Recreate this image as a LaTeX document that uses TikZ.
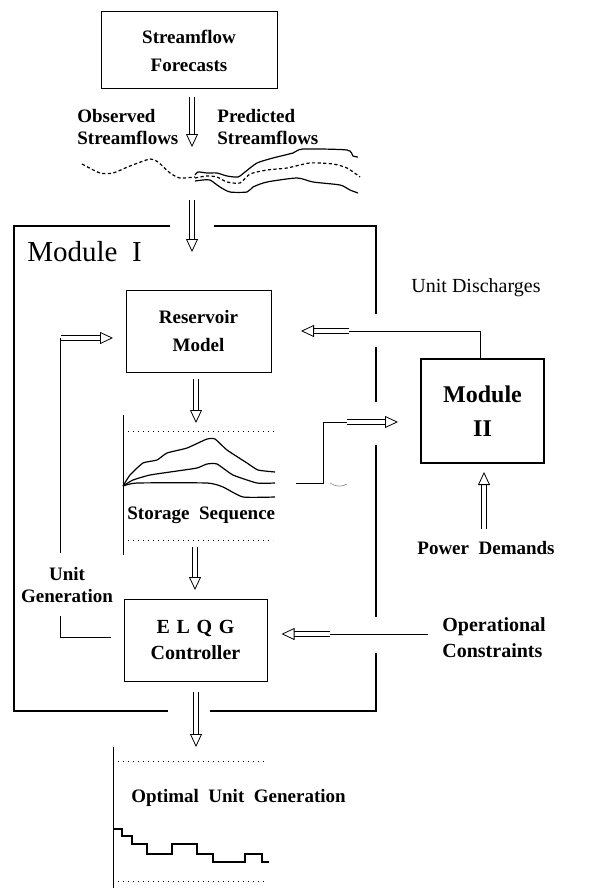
\documentclass[tikz,border=0pt]{standalone}
\usepackage{fontspec}
\setmainfont{Liberation Serif}
\usetikzlibrary{arrows.meta}

\tikzset{
  box/.style={draw, line width=0.5pt, inner sep=0pt, align=center},
  lab/.style={font=\bfseries\fontsize{9.5}{11}\selectfont, inner sep=0pt},
  thin/.style={line width=0.5pt},
  hollow/.style={double, double distance=2.2pt, line width=0.4pt,
    -{Triangle[open, length=6.5pt, width=6pt, line width=0.4pt]}},
  curve/.style={line width=0.6pt},
  dashcurve/.style={line width=0.6pt, dash pattern=on 1.6pt off 1.2pt},
  guide/.style={line width=0.5pt, dotted}
}

\begin{document}
\begin{tikzpicture}[x=0.5pt, y=-0.5pt]
  \useasboundingbox (0,0) rectangle (589,888);

  % boxes
  \node (forecast) at (189,50.5) [box, minimum width=88pt, minimum height=38.5pt,
    font=\bfseries\fontsize{9.5}{14}\selectfont] {Streamflow\\Forecasts};
  \node (reservoir) at (198.5,331) [box, minimum width=72.5pt, minimum height=41pt,
    font=\bfseries\fontsize{9.5}{14}\selectfont] {Reservoir\\Model};
  \node (elqg) at (195.5,640) [box, minimum width=71.5pt, minimum height=41pt,
    font=\bfseries\fontsize{10}{13}\selectfont] {E\,\,L\,\,Q\,\,G\\Controller};
  \node (module2) at (482.5,411) [box, line width=1pt, minimum width=61.5pt, minimum height=52pt,
    font=\bfseries\fontsize{12}{17}\selectfont] {Module\\II};

  % labels
  \node (modlabel) at (27,252) [anchor=west, font=\fontsize{14.5}{16}\selectfont, inner sep=0pt] {Module\ \ I};
  \node (observed) at (77,127) [lab, anchor=west, align=left] {Observed\\Streamflows};
  \node (predicted) at (217,127) [lab, anchor=west, align=left] {Predicted\\Streamflows};
  \node (discharge) at (476,288) [font=\fontsize{10}{12}\selectfont, inner sep=0pt] {Unit Discharges};
  \node (unitgen) at (67,585) [lab, align=center] {Unit\\Generation};
  \node (power) at (486,548) [lab] {Power\ \ Demands};
  \node (oper) at (442,638) [lab, anchor=west, align=left, font=\bfseries\fontsize{10}{13}\selectfont] {Operational\\Constraints};
  \node (storage) at (127,515) [lab, anchor=west] {Storage\ \ Sequence};
  \node (optimal) at (131,798) [lab, anchor=west] {Optimal\ \ Unit\ \ Generation};

  % Module I frame
  \draw[line width=1pt] (170,226) -| (14,711) -- (168,711);
  \draw[line width=1pt] (214,226) -| (376,314);
  \draw[line width=1pt] (376,347) -- (376,402);
  \draw[line width=1pt] (376,445) -- (376,617);
  \draw[line width=1pt] (376,653) |- (210,711);

  % streamflow traces
  \draw[dashcurve] plot[smooth, tension=0.4] coordinates {(82,164) (100,173) (113,173) (130,166)
    (150,159) (158,162) (170,173) (180,178) (195,177)};
  \draw[curve] plot[smooth, tension=0.4] coordinates {(195,175) (198,172) (207,173) (217,173)
    (227,176) (238,177) (245,172) (257,163) (273,158) (293,153) (303,149) (347,150) (353,156) (358,157)};
  \draw[dashcurve] plot[smooth, tension=0.4] coordinates {(195,178) (207,176) (217,177) (227,182)
    (240,183) (250,174) (267,170) (287,168) (310,163) (333,164) (347,168) (360,177)};
  \draw[curve] plot[smooth, tension=0.4] coordinates {(195,181) (203,180) (210,180) (220,187)
    (230,192) (247,192) (253,187) (267,182) (297,178) (313,182) (340,185) (350,190) (358,193)};

  % storage sequence chart
  \draw[thin] (123,415) -- (123,555);
  \draw[guide] (123,431) -- (275,431);
  \draw[guide] (123,540) -- (273,540);
  \draw[curve] plot[smooth, tension=0.3] coordinates {(123,486) (130,475) (143,463) (157,460)
    (167,453) (187,448) (207,439) (215,439) (227,450) (247,463) (258,470) (275,472)};
  \draw[curve] plot[smooth, tension=0.3] coordinates {(123,486) (133,480) (150,475) (177,471)
    (197,468) (207,464) (217,464) (233,475) (257,483) (275,483)};
  \draw[curve] plot[smooth, tension=0.3] coordinates {(123,486) (137,483) (207,483) (223,487)
    (243,497) (275,497)};
  \draw[line width=0.3pt, gray] (330,483) .. controls (336,487) and (342,487) .. (347,484);

  % optimal unit generation chart
  \draw[thin] (113,747) -- (113,888);
  \draw[guide] (113,761) -- (267,761);
  \draw[guide] (113,881) -- (267,881);
  \draw[curve] (113,829) -| (122,836) -| (132,844) -| (147,854) -| (172,844) -| (197,854)
    -| (213,862) -| (245,854) -| (262,862) -- (269,862);

  % main flow
  \coordinate (fcstart) at (192,97);
  \coordinate (fcend) at (192,147);
  \coordinate (instart) at (192,200);
  \coordinate (inend) at (192,252);
  \coordinate (resout) at (196,379);
  \coordinate (storetop) at (196,423);
  \coordinate (storeout) at (195,547);
  \coordinate (elqgin) at (195,590);
  \coordinate (elqgout) at (196,692);
  \coordinate (optend) at (196,747);
  \draw[hollow] (fcstart) -- (fcend);
  \draw[hollow] (instart) -- (inend);
  \draw[hollow] (resout) -- (storetop);
  \draw[hollow] (storeout) -- (elqgin);
  \draw[hollow] (elqgout) -- (optend);

  % unit generation feedback
  \coordinate (genlow) at (60,616);
  \coordinate (genhigh) at (60,553);
  \coordinate (genin) at (113,338);
  \draw[thin] (111,637) -| (genlow);
  \draw[thin] (genhigh) -- (60,338) -- (61,338);
  \draw[hollow] (61,338) -- (genin);

  % discharges from Module II
  \coordinate (disout) at (349,331);
  \coordinate (disend) at (301,331);
  \draw[thin] (module2.north -| 480,0) |- (disout);
  \draw[hollow] (disout) -- (disend);

  % storage to Module II
  \coordinate (stoout) at (296,483);
  \coordinate (stoturn) at (347,422);
  \draw[thin] (stoout) -- (323,483) |- (stoturn);
  \draw[hollow] (stoturn) -- ([xshift=-11pt]module2.west |- stoturn);

  % constraints
  \coordinate (constart) at (428,634);
  \coordinate (conmid) at (330,634);
  \draw[thin] (constart) -- (conmid);
  \draw[hollow] (conmid) -- ([xshift=7pt]elqg.east |- conmid);

  % power demands
  \coordinate (powstart) at (484,529);
  \draw[hollow] (powstart) -- ([yshift=-4pt]module2.south -| powstart);
\end{tikzpicture}
\end{document}
